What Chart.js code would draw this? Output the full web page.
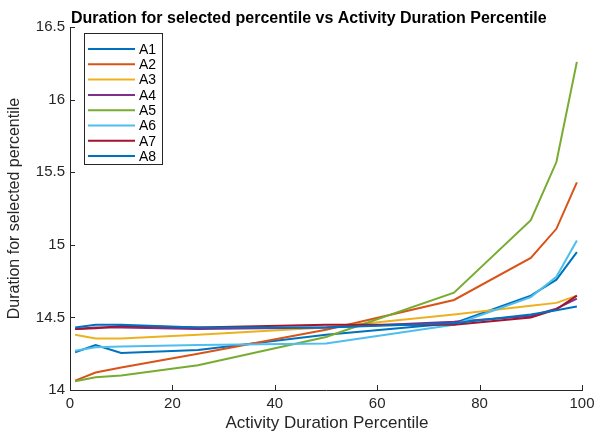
<!DOCTYPE html>
<html>
<head>
<meta charset="utf-8">
<script src="https://cdn.jsdelivr.net/npm/chart.js@4.4.0/dist/chart.umd.min.js"></script>
<style>
  html, body { margin: 0; padding: 0; background: #fff; }
  #wrap { width: 600px; height: 436px; }
</style>
</head>
<body>
<div id="wrap"><canvas id="c" width="600" height="436"></canvas></div>
<script>
// percentiles on the x axis
const percentiles = [1, 5, 10, 25, 50, 75, 90, 95, 99];
const seriesNames = ['A1', 'A2', 'A3', 'A4', 'A5', 'A6', 'A7', 'A8'];
const seriesColors = ['#0072BD', '#D95319', '#EDB120', '#7E2F8E', '#77AC30', '#4DBEEE', '#A2142F', '#0072BD'];

// values
const a1 = [14.26, 14.31, 14.255, 14.275, 14.38, 14.46, 14.65, 14.76, 14.95];
const a2 = [14.065, 14.12, 14.155, 14.25, 14.415, 14.62, 14.91, 15.11, 15.43];
const a3 = [14.38, 14.355, 14.355, 14.38, 14.43, 14.52, 14.58, 14.60, 14.65];
const a4 = [14.42, 14.43, 14.43, 14.42, 14.43, 14.47, 14.51, 14.56, 14.63];
const a5 = [14.06, 14.087, 14.10, 14.17, 14.365, 14.67, 15.17, 15.57, 16.26];
const a6 = [14.27, 14.295, 14.30, 14.31, 14.32, 14.45, 14.64, 14.78, 15.03];
const a7 = [14.42, 14.425, 14.44, 14.43, 14.45, 14.45, 14.50, 14.555, 14.65];
const a8 = [14.43, 14.45, 14.45, 14.43, 14.43, 14.46, 14.52, 14.55, 14.575];
const allSeries = [a1, a2, a3, a4, a5, a6, a7, a8];

const xTicks = [0, 20, 40, 60, 80, 100];
const yTicks = [14, 14.5, 15, 15.5, 16, 16.5];

const titleText = 'Duration for selected percentile vs Activity Duration Percentile';
const xTitle = 'Activity Duration Percentile';
const yTitle = 'Duration for selected percentile';

const FONT = '"Liberation Sans", Arial, sans-serif';
const axisColor = '#262626';

// MATLAB style: inward ticks, titles, legend box top-left
const decorations = {
  id: 'decorations',
  afterDraw(chart) {
    const ctx = chart.ctx;
    const a = chart.chartArea;
    const xs = chart.scales.x, ys = chart.scales.y;
    ctx.save();
    ctx.strokeStyle = axisColor;
    ctx.lineWidth = 1;
    ctx.beginPath();
    xTicks.forEach(t => {
      const px = Math.round(xs.getPixelForValue(t)) + 0.5;
      ctx.moveTo(px, a.bottom);
      ctx.lineTo(px, a.bottom - 5);
    });
    yTicks.forEach(t => {
      const py = Math.round(ys.getPixelForValue(t)) + 0.5;
      ctx.moveTo(a.left, py);
      ctx.lineTo(a.left + 5, py);
    });
    ctx.stroke();

    // title
    ctx.fillStyle = '#000';
    ctx.font = 'bold 16px ' + FONT;
    ctx.textAlign = 'left';
    ctx.textBaseline = 'middle';
    ctx.fillText(titleText, 71, 19);

    // axis titles
    ctx.fillStyle = axisColor;
    ctx.textAlign = 'center';
    ctx.font = '17px ' + FONT;
    ctx.fillText(xTitle, (a.left + a.right) / 2 + 1, 423);
    ctx.save();
    ctx.font = '16px ' + FONT;
    ctx.translate(15, (a.top + a.bottom) / 2);
    ctx.rotate(-Math.PI / 2);
    ctx.fillText(yTitle, 0, 0);
    ctx.restore();

    // legend
    const bx = 84.5, by = 33.5, bw = 78, bh = 131;
    ctx.fillStyle = '#fff';
    ctx.fillRect(bx, by, bw, bh);
    ctx.strokeStyle = axisColor;
    ctx.strokeRect(bx, by, bw, bh);
    ctx.font = '14px ' + FONT;
    ctx.textAlign = 'left';
    chart.data.datasets.forEach((ds, i) => {
      const y = 49 + i * 15.3;
      ctx.strokeStyle = ds.borderColor;
      ctx.lineWidth = 2;
      ctx.beginPath();
      ctx.moveTo(88, y);
      ctx.lineTo(135, y);
      ctx.stroke();
      ctx.fillStyle = '#000';
      ctx.fillText(ds.label, 139, y + 1);
    });
    ctx.restore();
  }
};

const datasets = seriesNames.map((name, i) => ({
  label: name,
  data: percentiles.map((p, j) => ({ x: p, y: allSeries[i][j] })),
  borderColor: seriesColors[i],
  backgroundColor: seriesColors[i],
  borderWidth: 2,
  pointRadius: 0,
  tension: 0,
  order: seriesNames.length - i
}));

new Chart(document.getElementById('c'), {
  type: 'line',
  data: { datasets: datasets },
  options: {
    responsive: false,
    animation: false,
    layout: { padding: { top: 27, right: 18, bottom: 0, left: 0 } },
    plugins: {
      legend: { display: false },
      title: { display: false },
      tooltip: { enabled: false }
    },
    scales: {
      x: {
        type: 'linear',
        min: 0,
        max: 100,
        afterBuildTicks: s => { s.ticks = xTicks.map(v => ({ value: v })); },
        afterFit: s => { s.height = 46; },
        grid: { display: false, drawTicks: false },
        border: { display: true, color: axisColor, width: 1 },
        ticks: { color: axisColor, font: { family: FONT, size: 15 }, padding: 5, maxRotation: 0 }
      },
      y: {
        min: 14,
        max: 16.5,
        afterBuildTicks: s => { s.ticks = yTicks.map(v => ({ value: v })); },
        afterFit: s => { s.width = 70; },
        grid: { display: false, drawTicks: false },
        border: { display: true, color: axisColor, width: 1 },
        ticks: {
          color: axisColor,
          font: { family: FONT, size: 15 },
          padding: 5,
          callback: v => String(v)
        }
      }
    }
  },
  plugins: [decorations]
});
</script>
</body>
</html>
